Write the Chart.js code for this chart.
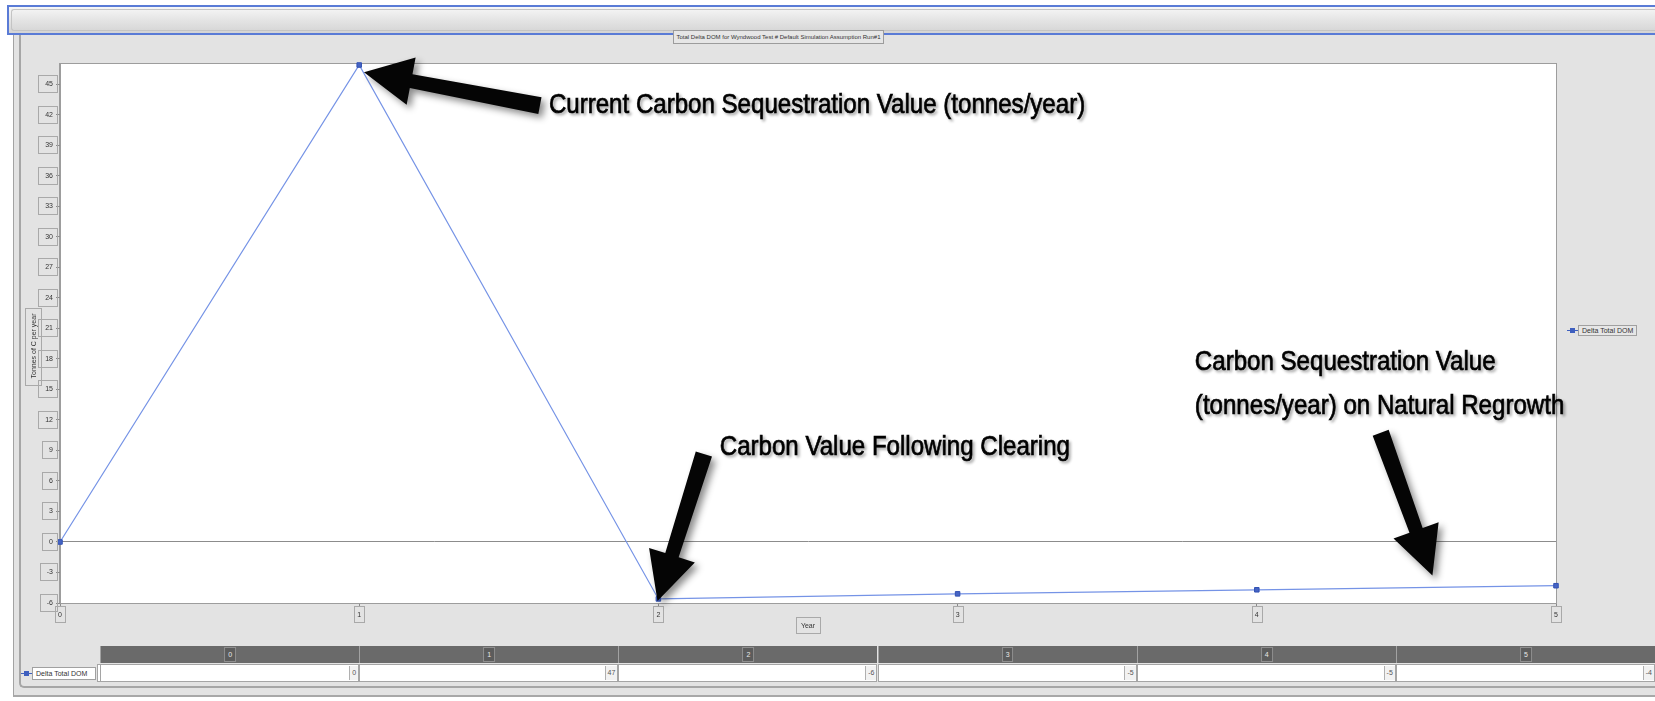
<!DOCTYPE html>
<html>
<head>
<meta charset="utf-8">
<script src="https://cdn.jsdelivr.net/npm/chart.js@4.4.1/dist/chart.umd.min.js"></script>
<style>
  html, body { margin: 0; padding: 0; background: #fff; }
  body { width: 1655px; height: 701px; overflow: hidden; position: relative; font-family: "Liberation Sans", Arial, sans-serif; }
  #topbar { position: absolute; left: 7px; top: 5px; width: 1650px; height: 26px; border: 2px solid #5a7bd6; border-right: none;
    background: linear-gradient(#f7f7f7, #e6e6e6 45%, #d4d4d4); }
  #topbar .inner { position: absolute; left: 2px; top: 2px; right: 0; bottom: 2px; border: 1px solid #c4c4c4; border-right: none; border-radius: 3px 0 0 3px; }
  #panel { position: absolute; left: 13px; top: 35px; width: 1642px; height: 660px; background: #e3e3e3; border-left: 1px solid #a3a3a3; border-bottom: 2px solid #a8a8a8; }
  #inner { position: absolute; left: 19px; top: 35px; width: 1636px; height: 651px; border-left: 2px solid #a6a6a6; border-bottom: 2px solid #a6a6a6; border-bottom-left-radius: 5px; }
  #wrap { position: absolute; left: 0; top: 0; width: 1655px; height: 701px; z-index: 1; }
  #title { position: absolute; left: 673px; top: 30px; width: 209px; height: 12px; border: 1px solid #9c9c9c; background: #e6e6e6;
    font-size: 6px; line-height: 12px; text-align: center; color: #333; white-space: nowrap; overflow: hidden; z-index: 2; }
  #legend { position: absolute; left: 1567px; top: 325px; z-index: 2; display: flex; align-items: center; }
  .mark { position: relative; width: 11px; height: 9px; }
  .mark::before { content: ""; position: absolute; left: 0; right: 0; top: 4px; height: 1px; background: #3e5fbf; }
  .mark::after { content: ""; position: absolute; left: 3px; top: 2px; width: 5px; height: 5px; background: #3e5fbf; }
  .lbl { font-size: 7px; color: #333; border: 1px solid #a0a0a0; padding: 1px 3px; background: #e6e6e6; white-space: nowrap; }
  #table { position: absolute; left: 0; top: 646px; width: 1655px; height: 40px; z-index: 2; }
  .hcell { position: absolute; top: 0; height: 17px; background: #6a6a6a; border-left: 1px solid #a2a2a2; box-sizing: border-box; }
  .hcell span { position: absolute; left: 50%; top: 1px; transform: translateX(-50%); height: 13px; padding: 0 3px; border: 1px solid #8f8f8f;
    background: #5c5c5c; color: #e8e8e8; font-size: 7px; line-height: 13px; }
  .vcell { position: absolute; top: 18px; height: 18px; background: #fff; border: 1px solid #a5a5a5; box-sizing: border-box; }
  .vcell span { position: absolute; right: 0; top: 1px; height: 14px; padding: 0 2px; border-left: 1px solid #b0b0b0; background: #f2f2f2;
    color: #555; font-size: 7px; line-height: 14px; }
  #rowlabel { position: absolute; left: 21px; top: 18px; height: 18px; display: flex; align-items: center; }
</style>
</head>
<body>
<div id="topbar"><div class="inner"></div></div>
<div id="panel"></div>
<div id="inner"></div>
<div id="wrap"><canvas id="chart"></canvas></div>
<div id="title"></div>
<div id="legend"><div class="mark"></div><div class="lbl"></div></div>
<div id="table"></div>
<script>
// chart data
const years = ["0", "1", "2", "3", "4", "5"]
const deltaTotalDOM = [0, 46.9, -5.6, -5.1, -4.7, -4.3]
const seriesName = "Delta Total DOM"
const chartTitle = "Total Delta DOM for Wyndwood Test # Default Simulation Assumption Run#1"
const yTitle = "Tonnes of C per year"
const xTitle = "Year"
const yMin = -6, yMax = 47, yStep = 3

// callouts, in data units (x = year, y = tonnes)
const callouts = [
  { lines: ["Current Carbon Sequestration Value (tonnes/year)"], x: 1.634, y: 42.9, from: [1.604, 42.9], to: [1.016, 46.2] },
  { lines: ["Carbon Value Following Clearing"], x: 2.205, y: 9.3, from: [2.152, 8.65], to: [1.997, -5.8] },
  { lines: ["Carbon Sequestration Value", "(tonnes/year) on Natural Regrowth"], x: 3.793, y: 17.7, from: [4.414, 10.74], to: [4.587, -3.3] }
]

const $ = s => document.querySelector(s)

function buildChrome() {
  $("#title").textContent = chartTitle
  $("#legend .lbl").textContent = seriesName
  const t = $("#table")
  const left = 100, colW = (1655 - left) / years.length
  let html = `<div id="rowlabel"><div class="mark"></div><div class="lbl" style="background:#fff;padding:2px 8px 2px 3px">${seriesName}</div>` +
    `<div style="width:13px;height:16px;border:1px solid #a5a5a5;background:#fff;margin-left:1px"></div></div>`
  years.forEach((y, i) => {
    const x = left + i * colW
    html += `<div class="hcell" style="left:${x}px;width:${colW}px"><span>${y}</span></div>`
    html += `<div class="vcell" style="left:${x}px;width:${colW}px"><span>${Math.round(deltaTotalDOM[i])}</span></div>`
  })
  t.innerHTML = html
}

function drawArrow(ctx, x1, y1, x2, y2) {
  const dx = x2 - x1, dy = y2 - y1
  const len = Math.hypot(dx, dy)
  const ux = dx / len, uy = dy / len
  const nx = -uy, ny = ux
  const headL = 48, headW = 24, tailW = 8.5, neckW = 7
  const bx = x2 - ux * headL, by = y2 - uy * headL
  ctx.beginPath()
  ctx.moveTo(x1 + nx * tailW, y1 + ny * tailW)
  ctx.lineTo(bx + nx * neckW, by + ny * neckW)
  ctx.lineTo(bx + nx * headW, by + ny * headW)
  ctx.lineTo(x2, y2)
  ctx.lineTo(bx - nx * headW, by - ny * headW)
  ctx.lineTo(bx - nx * neckW, by - ny * neckW)
  ctx.lineTo(x1 - nx * tailW, y1 - ny * tailW)
  ctx.closePath()
  ctx.fill()
}

const plotFrame = {
  id: "plotFrame",
  beforeDraw(chart) {
    const { ctx, chartArea: a } = chart
    ctx.save()
    ctx.fillStyle = "#fff"
    ctx.fillRect(a.left, a.top, a.right - a.left, a.bottom - a.top)
    ctx.strokeStyle = "#9d9d9d"
    ctx.lineWidth = 1
    ctx.strokeRect(Math.round(a.left) - 0.5, Math.round(a.top) - 0.5, Math.round(a.right - a.left) + 1, Math.round(a.bottom - a.top) + 1)
    ctx.restore()
  },
  afterDraw(chart) {
    const { ctx, scales: { x, y } } = chart
    ctx.save()
    ctx.strokeStyle = "#a9a9a9"
    ctx.lineWidth = 1
    ctx.font = '7px "Liberation Sans"'
    // boxes round the tick labels
    y.ticks.forEach((t, i) => {
      const py = Math.round(y.getPixelForTick(i))
      const w = ctx.measureText(t.label).width
      const r = Math.round(y.right) - 3
      const l = Math.round(r - 7 - w - 4)
      ctx.strokeRect(l + 0.5, py - 8.5, r - l, 17)
    })
    x.ticks.forEach((t, i) => {
      const px = Math.round(x.getPixelForTick(i))
      const w = ctx.measureText(t.label).width
      ctx.strokeRect(Math.round(px - w / 2 - 3) + 0.5, Math.round(x.top) + 3.5, Math.round(w + 6), 16)
    })
    // y axis title, in a box
    const yw = ctx.measureText(yTitle).width
    const cy = 346
    ctx.strokeRect(25.5, Math.round(cy - yw / 2 - 6) + 0.5, 16, Math.round(yw + 12))
    ctx.save()
    ctx.translate(34, cy)
    ctx.rotate(-Math.PI / 2)
    ctx.fillStyle = "#333"
    ctx.textAlign = "center"
    ctx.textBaseline = "middle"
    ctx.fillText(yTitle, 0, 0)
    ctx.restore()
    // box round the x axis title
    const xw = ctx.measureText(xTitle).width
    const cx = (x.left + x.right) / 2
    ctx.strokeRect(Math.round(cx - xw / 2 - 5) + 0.5, 617.5, Math.round(xw + 10), 16)

    // callouts
    ctx.shadowColor = "rgba(0,0,0,0.45)"
    ctx.shadowBlur = 7
    ctx.shadowOffsetX = 4
    ctx.shadowOffsetY = 4
    ctx.fillStyle = "#050505"
    callouts.forEach(c => {
      drawArrow(ctx, x.getPixelForValue(c.from[0]), y.getPixelForValue(c.from[1]),
        x.getPixelForValue(c.to[0]), y.getPixelForValue(c.to[1]))
    })
    ctx.shadowBlur = 3
    ctx.shadowOffsetX = 2
    ctx.shadowOffsetY = 2
    ctx.shadowColor = "rgba(0,0,0,0.3)"
    ctx.font = '28px "Liberation Sans", Arial, sans-serif'
    ctx.textBaseline = "middle"
    ctx.fillStyle = "#000"
    ctx.strokeStyle = "#000"
    ctx.lineWidth = 0.7
    callouts.forEach(c => {
      const px = x.getPixelForValue(c.x)
      c.lines.forEach((line, k) => {
        ctx.save()
        ctx.translate(px, y.getPixelForValue(c.y) + k * 44)
        ctx.scale(0.86, 1)
        ctx.fillText(line, 0, 0)
        ctx.strokeText(line, 0, 0)
        ctx.restore()
      })
    })
    ctx.restore()
  }
}

function main() {
  buildChrome()
  const tickFont = { family: '"Liberation Sans", Arial, sans-serif', size: 7 }
  new Chart($("#chart").getContext("2d"), {
    type: "line",
    data: {
      labels: years,
      datasets: [{
        label: seriesName,
        data: deltaTotalDOM,
        borderColor: "#7593e6",
        borderWidth: 1.2,
        pointStyle: "rect",
        pointRadius: 3.2,
        pointBackgroundColor: "#4664c4",
        pointBorderColor: "#3151b3",
        pointBorderWidth: 1,
        tension: 0,
        clip: false
      }]
    },
    options: {
      responsive: true,
      maintainAspectRatio: false,
      animation: false,
      layout: { padding: { left: 24, top: 64, right: 99, bottom: 67 } },
      plugins: { legend: { display: false }, tooltip: { enabled: false } },
      scales: {
        x: {
          offset: false,
          afterFit: s => { s.height = 31 },
          border: { display: true, color: "#9d9d9d" },
          grid: { color: "transparent", tickColor: "#8a8a8a", tickLength: 4 },
          ticks: { font: tickFont, color: "#333", padding: 4, maxRotation: 0 },
          title: { display: true, text: xTitle, font: tickFont, color: "#333", padding: { top: 0, bottom: 4 } }
        },
        y: {
          min: yMin,
          max: yMax,
          afterFit: s => { s.width = 36 },
          border: { display: true, color: "#9d9d9d" },
          grid: {
            color: c => c.tick && c.tick.value === 0 ? "#8c8c8c" : "transparent",
            tickColor: "#8a8a8a",
            tickLength: 4
          },
          ticks: { stepSize: yStep, includeBounds: false, font: tickFont, color: "#333", padding: 3 }
        }
      }
    },
    plugins: [plotFrame]
  })
}
document.addEventListener("DOMContentLoaded", main)
</script>
</body>
</html>
